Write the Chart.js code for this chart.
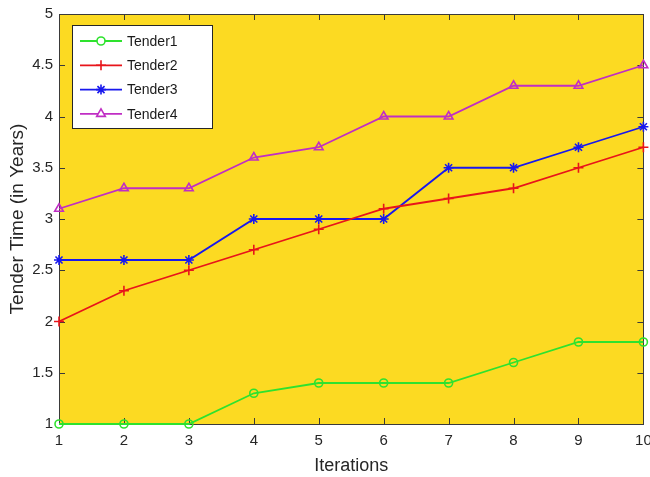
<!DOCTYPE html>
<html>
<head>
<meta charset="utf-8">
<script src="https://cdn.jsdelivr.net/npm/chart.js@4/dist/chart.umd.min.js"></script>
<style>
  html, body { margin: 0; padding: 0; background: #ffffff; }
  #wrap { width: 650px; height: 477px; }
</style>
</head>
<body>
<div id="wrap"><canvas id="c" width="650" height="477"></canvas></div>
<script>
// Iteration numbers along the x axis
const iterations = [1, 2, 3, 4, 5, 6, 7, 8, 9, 10];
// Tender time (years) for each tender at each iteration
const tender1 = [1.0, 1.0, 1.0, 1.3, 1.4, 1.4, 1.4, 1.6, 1.8, 1.8];
const tender2 = [2.0, 2.3, 2.5, 2.7, 2.9, 3.1, 3.2, 3.3, 3.5, 3.7];
const tender3 = [2.6, 2.6, 2.6, 3.0, 3.0, 3.0, 3.5, 3.5, 3.7, 3.9];
const tender4 = [3.1, 3.3, 3.3, 3.6, 3.7, 4.0, 4.0, 4.3, 4.3, 4.5];
const seriesNames = ['Tender1', 'Tender2', 'Tender3', 'Tender4'];
const yTicks = [1, 1.5, 2, 2.5, 3, 3.5, 4, 4.5, 5];

const FONT = '"Liberation Sans", Arial, Helvetica, sans-serif';
const AXIS = '#3a3a3a';
const TEXT = '#262626';
const PLOT_BG = '#fcda22';

const toPoints = vals => vals.map((v, i) => ({ x: iterations[i], y: v }));

const styles = [
  { color: '#2ee22e', point: 'circle', r: 4 },
  { color: '#e8141a', point: 'cross', r: 5 },
  { color: '#1818ee', point: 'star', r: 5 },
  { color: '#c02ec4', point: 'triangle', r: 5 }
];
const values = [tender1, tender2, tender3, tender4];

const datasets = values.map((vals, k) => ({
  label: seriesNames[k],
  data: toPoints(vals),
  borderColor: styles[k].color,
  backgroundColor: 'rgba(0,0,0,0)',
  borderWidth: 1.8,
  pointStyle: styles[k].point,
  pointRadius: styles[k].r,
  pointBorderWidth: 1.6,
  pointBorderColor: styles[k].color,
  pointBackgroundColor: 'rgba(0,0,0,0)',
  tension: 0,
  clip: 8
}));

// Yellow plot background, box frame and inward tick marks on all four sides
const framePlugin = {
  id: 'frame',
  beforeDatasetsDraw(chart) {
    const { ctx, chartArea: a, scales } = chart;
    ctx.save();
    ctx.fillStyle = PLOT_BG;
    ctx.fillRect(a.left, a.top, a.right - a.left, a.bottom - a.top);
    ctx.strokeStyle = AXIS;
    ctx.lineWidth = 1;
    const len = 6;
    iterations.forEach(v => {
      const x = Math.round(scales.x.getPixelForValue(v)) + 0.5;
      ctx.beginPath();
      ctx.moveTo(x, a.bottom); ctx.lineTo(x, a.bottom - len);
      ctx.moveTo(x, a.top); ctx.lineTo(x, a.top + len);
      ctx.stroke();
    });
    yTicks.forEach(v => {
      const y = Math.round(scales.y.getPixelForValue(v)) + 0.5;
      ctx.beginPath();
      ctx.moveTo(a.left, y); ctx.lineTo(a.left + len, y);
      ctx.moveTo(a.right, y); ctx.lineTo(a.right - len, y);
      ctx.stroke();
    });
    ctx.strokeRect(Math.round(a.left) + 0.5, Math.round(a.top) + 0.5,
                   Math.round(a.right - a.left), Math.round(a.bottom - a.top));
    ctx.restore();
  }
};

// Boxed legend in the upper-left corner of the plot
const boxLegend = {
  id: 'boxLegend',
  afterDatasetsDraw(chart) {
    const { ctx, chartArea: a } = chart;
    const x0 = a.left + 13, y0 = a.top + 11, w = 140, h = 103;
    ctx.save();
    ctx.fillStyle = '#ffffff';
    ctx.fillRect(x0, y0, w, h);
    ctx.strokeStyle = '#262626';
    ctx.lineWidth = 1;
    ctx.strokeRect(x0 + 0.5, y0 + 0.5, w, h);
    ctx.font = '14px ' + FONT;
    ctx.textBaseline = 'middle';
    chart.data.datasets.forEach((ds, i) => {
      const y = y0 + 16 + i * 24.3;
      ctx.strokeStyle = ds.borderColor;
      ctx.lineWidth = 1.8;
      ctx.beginPath();
      ctx.moveTo(x0 + 8, y); ctx.lineTo(x0 + 50, y);
      ctx.stroke();
      ctx.fillStyle = '#ffffff';
      ctx.lineWidth = 1.6;
      Chart.helpers.drawPoint(ctx, {
        pointStyle: ds.pointStyle, radius: ds.pointRadius, borderWidth: 1.6, rotation: 0
      }, x0 + 29, y);
      ctx.fillStyle = '#1a1a1a';
      ctx.fillText(ds.label, x0 + 55, y + 1);
    });
    ctx.restore();
  }
};

new Chart(document.getElementById('c'), {
  type: 'line',
  data: { datasets },
  options: {
    responsive: false,
    animation: false,
    devicePixelRatio: 1,
    layout: { padding: { top: 14, right: 6, left: 0, bottom: 0 } },
    plugins: { legend: { display: false }, tooltip: { enabled: false } },
    scales: {
      x: {
        type: 'linear',
        min: 1, max: 10,
        afterBuildTicks: s => { s.ticks = iterations.map(v => ({ value: v })); },
        afterFit: s => { s.height = 53; s.paddingLeft = 0; s.paddingRight = 0; },
        grid: { display: false, drawTicks: false },
        border: { display: false },
        ticks: { color: TEXT, font: { family: FONT, size: 15 }, padding: 8, maxRotation: 0,
                 callback: v => String(v) },
        title: { display: true, text: 'Iterations', color: TEXT,
                 font: { family: FONT, size: 18 }, padding: { top: 0, bottom: 0 } }
      },
      y: {
        min: 1, max: 5,
        afterBuildTicks: s => { s.ticks = yTicks.map(v => ({ value: v })); },
        afterFit: s => { s.width = 59; s.paddingTop = 0; s.paddingBottom = 0; },
        grid: { display: false, drawTicks: false },
        border: { display: false },
        ticks: { color: TEXT, font: { family: FONT, size: 15 }, padding: 6,
                 callback: v => String(v) },
        title: { display: true, text: 'Tender Time (in Years)', color: TEXT,
                 font: { family: FONT, size: 19 }, padding: { top: 6, bottom: 0 } }
      }
    }
  },
  plugins: [framePlugin, boxLegend]
});
</script>
</body>
</html>
